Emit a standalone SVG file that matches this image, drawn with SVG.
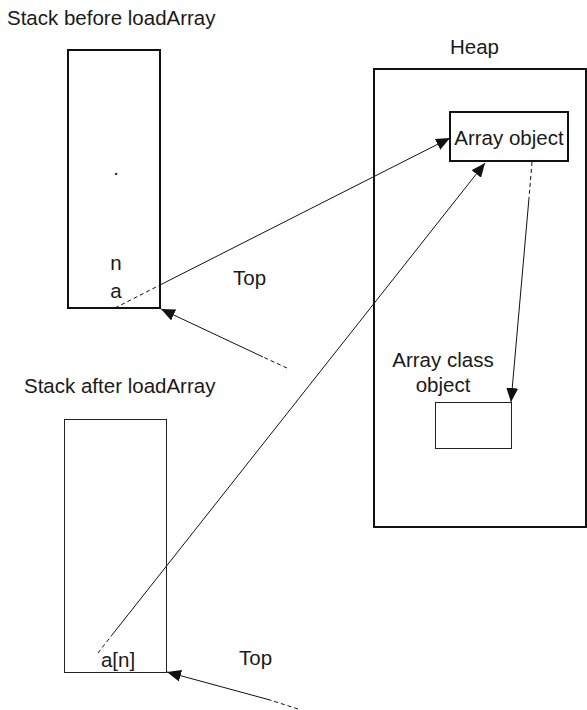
<svg xmlns="http://www.w3.org/2000/svg" width="587" height="710" viewBox="0 0 587 710">
  <style>
    text { font-family: "Liberation Sans", Arial, sans-serif; font-size: 20.5px; fill: #1a1a1a; }
    .thick { fill: none; stroke: #111; stroke-width: 2; }
    .thin { fill: none; stroke: #222; stroke-width: 1; }
    .link { fill: none; stroke: #111; stroke-width: 1; }
    .dash { fill: none; stroke: #111; stroke-width: 1; stroke-dasharray: 4 3; }
  </style>
  <defs>
    <marker id="head" markerUnits="userSpaceOnUse" viewBox="0 0 14 12" refX="14" refY="6" markerWidth="14" markerHeight="12" orient="auto">
      <path d="M0,0 L14,6 L0,12 z" fill="#111"/>
    </marker>
  </defs>
  <rect width="587" height="710" fill="#fff"/>

  <!-- stack before the call -->
  <g id="stack-before">
    <text x="7" y="25">Stack before loadArray</text>
    <rect class="thick" x="68" y="50" width="92" height="258"/>
    <text x="116" y="175" text-anchor="middle">.</text>
    <text x="116" y="270" text-anchor="middle">n</text>
    <text x="116" y="298" text-anchor="middle">a</text>
  </g>
  <g id="top-before">
    <text x="233" y="285">Top</text>
  </g>

  <!-- stack after the call -->
  <g id="stack-after">
    <text x="24" y="393">Stack after loadArray</text>
    <rect class="thin" x="64.5" y="419.5" width="102" height="253"/>
    <text x="118" y="667" text-anchor="middle">a[n]</text>
  </g>
  <g id="top-after">
    <text x="239" y="665">Top</text>
  </g>

  <!-- heap -->
  <g id="heap">
    <text x="450" y="54">Heap</text>
    <rect class="thick" x="374" y="69" width="212" height="458"/>
  </g>
  <g id="array-object">
    <rect class="thick" x="450" y="112" width="118" height="49" fill="#fff"/>
    <text x="509" y="145" text-anchor="middle">Array object</text>
  </g>
  <g id="array-class-object">
    <text x="443" y="367" text-anchor="middle">Array class</text>
    <text x="443" y="392" text-anchor="middle">object</text>
    <rect class="thin" x="435.5" y="402.5" width="76" height="46"/>
  </g>

  <!-- references -->
  <g id="connectors">
    <line class="dash" x1="115" y1="308" x2="160" y2="285"/>
    <line class="link" x1="160" y1="285" x2="450" y2="138" marker-end="url(#head)"/>

    <line class="dash" x1="287" y1="368" x2="263" y2="357"/>
    <line class="link" x1="263" y1="357" x2="161" y2="309" marker-end="url(#head)"/>

    <line class="dash" x1="98" y1="653" x2="112" y2="635"/>
    <line class="link" x1="112" y1="635" x2="485" y2="163" marker-end="url(#head)"/>

    <line class="dash" x1="532" y1="162" x2="529" y2="198"/>
    <line class="link" x1="529" y1="198" x2="511" y2="402" marker-end="url(#head)"/>

    <line class="dash" x1="298" y1="709" x2="270" y2="700"/>
    <line class="link" x1="270" y1="700" x2="167" y2="672" marker-end="url(#head)"/>
  </g>
</svg>
